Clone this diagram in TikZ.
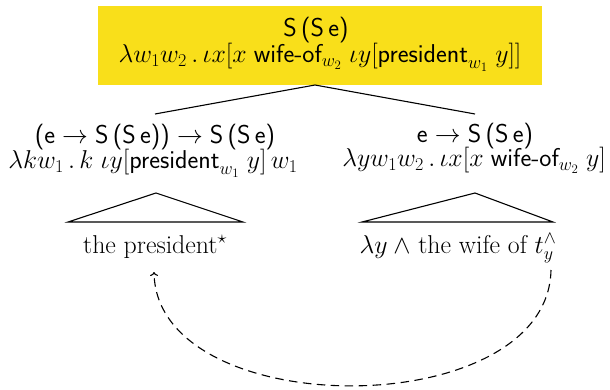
\documentclass[tikz,border=0pt]{standalone}
\usepackage{fix-cm}
\usepackage{amsmath,amssymb}
\usetikzlibrary{arrows.meta}
\definecolor{hlyellow}{RGB}{249,223,26}
\tikzset{
  lbl/.style={font=\fontsize{25.8}{27}\selectfont, inner sep=0pt, anchor=base},
  edgeline/.style={line width=1.1pt},
  movearrow/.style={line width=1.1pt, dash pattern=on 8.5pt off 5.5pt, -{To[length=4pt,width=8pt]}},
}
\begin{document}
\begin{tikzpicture}[x=1pt,y=-1pt]
\useasboundingbox (0,0) rectangle (610,390);
% top box
\node[fill=hlyellow, minimum width=444pt, minimum height=79pt, inner sep=0pt, anchor=center] (box) at (320,45.5) {};
\node[lbl] (T1) at (316,37) {\textsf{S\,(S\,e)}};
\node[lbl] (T2) at (320,63) {$\lambda w_1w_2\,.\,\iota x[x\;\textsf{wife-of}_{w_2}\;\iota y[\textsf{president}_{w_1}\;y]]$};
% daughters
\node[lbl] (L1) at (155,144) {$\textsf{(e}\to\textsf{S\,(S\,e))}\to\textsf{S\,(S\,e)}$};
\node[lbl] (L2) at (153,169) {$\lambda kw_1\,.\,k\;\iota y[\textsf{president}_{w_1}\;y]\,w_1$};
\node[lbl] (R1) at (475,143) {$\textsf{e}\to\textsf{S\,(S\,e)}$};
\node[lbl] (R2) at (474,167) {$\lambda yw_1w_2\,.\,\iota x[x\;\textsf{wife-of}_{w_2}\;y]$};
% leaves
\node[lbl] (B1) at (155,253) {the president$^\star$};
\node[lbl] (B2) at (458,253) {$\lambda y\mskip\medmuskip\wedge$ the wife of $t^\wedge_y$};
% coordinates
\coordinate (apex) at (315,85);
\coordinate (lend) at (155,114);
\coordinate (rend) at (475,114);
\coordinate (tlA) at (156,193);
\coordinate (tlB) at (68,222);
\coordinate (tlC) at (243,222);
\coordinate (trA) at (475,193);
\coordinate (trB) at (362,222);
\coordinate (trC) at (553,222);
\coordinate (arrS) at (551,270);
\coordinate (arrE) at (154,272);
% edges
\draw[edgeline] (apex) -- (lend);
\draw[edgeline] (apex) -- (rend);
\draw[edgeline, line join=miter] (tlA) -- (tlB) -- (tlC) -- cycle;
\draw[edgeline, line join=miter] (trA) -- (trB) -- (trC) -- cycle;
% movement arrow
\draw[movearrow] (arrS) .. controls (548,424) and (157,424) .. (arrE);
\end{tikzpicture}
\end{document}
